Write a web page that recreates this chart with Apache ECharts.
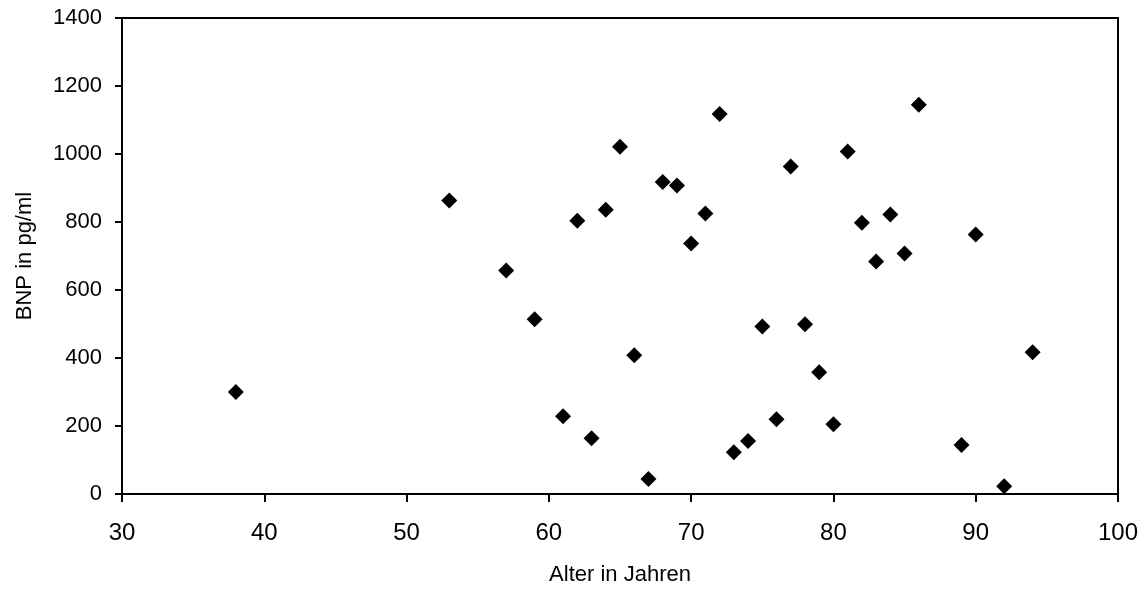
<!DOCTYPE html>
<html><head><meta charset="utf-8">
<script src="https://cdn.jsdelivr.net/npm/echarts@6/dist/echarts.min.js"></script>
<style>html,body{margin:0;padding:0;background:#fff}#c{width:1146px;height:591px}</style>
</head><body><div id="c"></div>
<script>
const ages = [38,53,57,59,61,62,63,64,65,66,67,68,69,70,71,72,73,74,75,76,77,78,79,80,81,82,83,84,85,86,89,90,92,94];
const bnp  = [300,863,657,514,229,804,164,836,1021,408,44,918,907,737,825,1118,123,156,493,220,963,499,358,205,1007,798,684,822,707,1145,144,763,23,417];
const points = ages.map((a,i)=>[a,bnp[i]]);
const font = 'Liberation Sans, Arial, sans-serif';
const chart = echarts.init(document.getElementById('c'));
chart.setOption({
  animation:false,
  grid:{left:122,right:28,top:18,bottom:96,show:true,borderColor:'#000',borderWidth:2,backgroundColor:'transparent'},
  xAxis:{type:'value',min:30,max:100,interval:10,
    name:'Alter in Jahren',nameLocation:'middle',nameGap:70,
    nameTextStyle:{fontFamily:font,fontSize:22,color:'#000'},
    axisLine:{show:true,lineStyle:{color:'#000',width:2}},
    axisTick:{show:true,length:8,lineStyle:{color:'#000',width:2}},
    axisLabel:{fontFamily:font,fontSize:24,color:'#000',margin:27},
    splitLine:{show:false}},
  yAxis:{type:'value',min:0,max:1400,interval:200,
    name:'BNP in pg/ml',nameLocation:'middle',nameGap:86,
    nameTextStyle:{fontFamily:font,fontSize:22,color:'#000'},
    axisLine:{show:true,lineStyle:{color:'#000',width:2}},
    axisTick:{show:true,length:7,lineStyle:{color:'#000',width:2}},
    axisLabel:{fontFamily:font,fontSize:22,color:'#000',margin:20,formatter:v=>String(v)},
    splitLine:{show:false}},
  series:[{type:'scatter',data:points,symbol:'diamond',symbolSize:16,
    itemStyle:{color:'#000',opacity:1}}]
});
</script></body></html>
